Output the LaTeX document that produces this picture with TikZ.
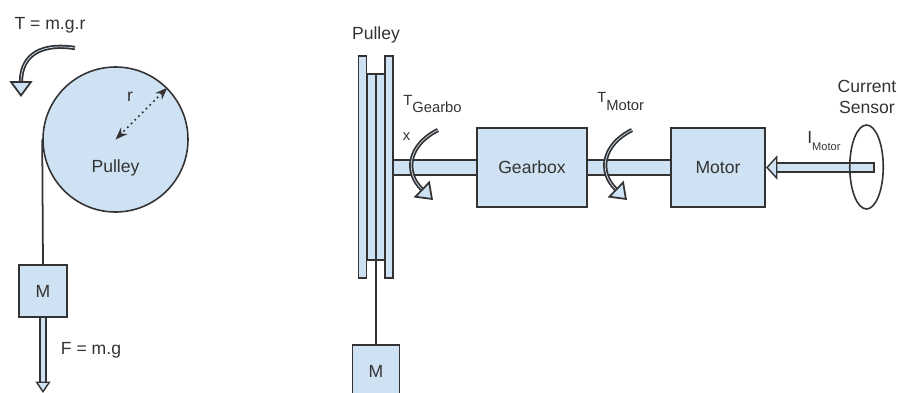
\documentclass[tikz,border=0pt]{standalone}
\usepackage{fontspec}
\setmainfont{Liberation Sans}
\usetikzlibrary{arrows.meta,shapes.geometric}
\definecolor{partblue}{HTML}{CFE2F3}
\definecolor{darkline}{HTML}{333333}
\newcommand{\lowtext}[2]{\raisebox{#1}{\fontsize{8.4}{10}\selectfont #2}}

\begin{document}
\begin{tikzpicture}[
    part/.style={draw=darkline, line width=0.9pt, fill=partblue, inner sep=0pt, text=darkline},
    label/.style={inner sep=0pt, text=darkline},
    rope/.style={draw=darkline, line width=1pt},
    hollow/.style={draw=darkline, line width=0.8pt, double=partblue, double distance=#1},
    torque/.style={draw=darkline, line width=1pt, double=partblue, double distance=0.4pt,
        -{Triangle[length=9pt,width=13pt,fill=partblue]}}
]
    \useasboundingbox (0,0) rectangle (17.96,7.84);
    \clip (0,0) rectangle (17.96,7.84);

    % Pulley, side view
    \node[part, circle, minimum size=2.9cm] (wheel) at (2.31,5.05) {};
    \node[label] (wheelText) at (2.31,4.48) {Pulley};
    \node[part, minimum width=0.96cm, minimum height=1.04cm] (massA) at (0.86,2.02) {M};
    \draw[rope] (wheel.west) -- (massA.north);
    \draw[rope, dotted, line width=1pt, {Stealth[length=7pt]}-{Stealth[length=7pt]}] (wheel.45) -- (wheel.center);
    \node[label] (radius) at (2.6,5.9) {r};
    \node[label] (torqueA) at (1.0,7.34) {T = m.g.r};
    \coordinate (torqueAStart) at (1.50,6.88);
    \coordinate (torqueAEnd) at (0.42,5.90);
    \draw[torque] (torqueAStart) .. controls (0.70,7.0) and (0.42,6.64) .. (torqueAEnd);

    % Weight force
    \coordinate (forceEnd) at (0.86,-0.02);
    \draw[hollow=2.4pt, -{Triangle[length=6.5pt,width=8.5pt,fill=partblue]}] (massA.south) -- (forceEnd);
    \node[label] (force) at (1.82,0.84) {F = m.g};

    % Pulley, front view
    \node[label] (pulleyText) at (7.52,7.14) {Pulley};
    \node[part, minimum width=0.16cm, minimum height=4.44cm] (flangeL) at (7.25,4.5) {};
    \node[part, minimum width=0.16cm, minimum height=4.44cm] (flangeR) at (7.78,4.5) {};
    \node[part, minimum width=0.37cm, minimum height=3.72cm] (hub) at (7.52,4.5) {};
    \draw[rope] (hub.north) -- (hub.south);
    \node[part, minimum width=0.94cm, minimum height=1.04cm] (massB) at (7.52,0.42) {M};
    \draw[rope] (hub.south) -- (massB.north);

    % Drive train
    \node[part, minimum width=1.69cm, minimum height=0.3cm] (shaftA) at (8.70,4.49) {};
    \node[part, minimum width=1.68cm, minimum height=0.3cm] (shaftB) at (12.57,4.49) {};
    \node[part, minimum width=2.19cm, minimum height=1.58cm] (gearbox) at (10.64,4.49) {Gearbox};
    \node[part, minimum width=1.89cm, minimum height=1.58cm] (motor) at (14.36,4.49) {Motor};

    % Torques
    \node[label, anchor=base west] (torqueG) at (8.06,5.74) {\lowtext{0pt}{T}\lowtext{-4.5pt}{Gearbo}};
    \node[label, anchor=base] (torqueGWrap) at (8.13,5.03) {\fontsize{8.4}{10}\selectfont x};
    \coordinate (torqueGStart) at (8.76,5.24);
    \coordinate (torqueGEnd) at (8.66,3.84);
    \draw[torque] (torqueGStart) .. controls (8.16,4.94) and (8.08,4.40) .. (torqueGEnd);
    \node[label, anchor=base west] (torqueM) at (11.94,5.79) {\lowtext{0pt}{T}\lowtext{-4.5pt}{Motor}};
    \coordinate (torqueMStart) at (12.64,5.24);
    \coordinate (torqueMEnd) at (12.54,3.84);
    \draw[torque] (torqueMStart) .. controls (12.04,4.94) and (11.96,4.40) .. (torqueMEnd);

    % Current sensor
    \coordinate (currentStart) at (17.48,4.49);
    \draw[hollow=4.4pt, -{Triangle[length=6.5pt,width=14pt,fill=partblue]}] (currentStart) -- (motor.east);
    \draw[rope, line width=0.8pt] ([yshift=3pt]currentStart) -- ([yshift=-3pt]currentStart);
    \node[draw=darkline, line width=0.9pt, ellipse, inner sep=0pt, minimum width=0.67cm, minimum height=1.68cm] (sensor) at (17.33,4.5) {};
    \node[label, align=center, font=\fontsize{10}{11.5}\selectfont] (sensorText) at (17.34,5.90) {Current\\Sensor};
    \node[label, anchor=base west] (current) at (16.14,4.98) {I\raisebox{-4pt}{\fontsize{6.3}{8}\selectfont Motor}};
\end{tikzpicture}
\end{document}
